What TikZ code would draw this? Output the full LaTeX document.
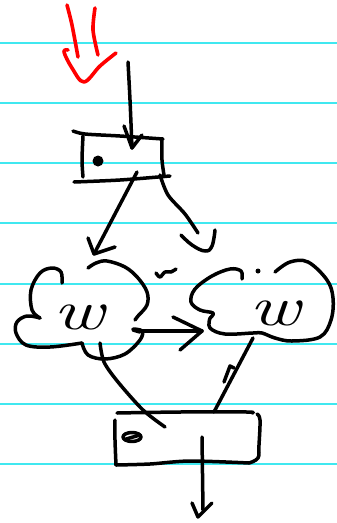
\documentclass[tikz,border=0pt]{standalone}
\begin{document}
\begin{tikzpicture}[x=1pt,y=-1pt,
  ink/.style={line width=3.5pt,line cap=round,line join=round,black},
  redink/.style={line width=3.6pt,line cap=round,line join=round,red},
  rule/.style={line width=1.8pt,color={rgb,255:red,64;green,232;blue,240}},
  letter/.style={font=\fontsize{56}{56}\selectfont\itshape,xscale=1.4,inner sep=0pt}]
\useasboundingbox (0,0) rectangle (337,523);
\fill[white] (0,0) rectangle (337,523);
% ruled lines
\foreach \yy in {43,103,163,223,284,344,404,464}
  \draw[rule] (0,\yy) -- (337,\yy);
% red arrow
\draw[redink] plot[smooth] coordinates {(67,5) (72,25) (78,57)};
\draw[redink] plot[smooth] coordinates {(95,8) (93,30) (98,55)};
\draw[redink] plot[smooth,tension=0.6] coordinates {(68,50) (64,52) (72,68) (84,82) (100,66) (116,53)};
% top input arrow
\coordinate (inTop) at (128,62);
\coordinate (inEnd) at (132,148);
\draw[ink] plot[smooth] coordinates {(inTop) (130,100) (132,148)};
\draw[ink] (124,126) -- (inEnd) -- (142,135);
% top box
\draw[ink] plot[smooth] coordinates {(73,131) (85,134) (120,136) (163,139)};
\draw[ink] plot[smooth] coordinates {(83,136) (82,160) (83,177)};
\draw[ink] plot[smooth] coordinates {(162,139) (162,160) (164,175)};
\draw[ink] plot[smooth] coordinates {(74,182) (120,180) (170,176)};
\fill (98,161) circle (5.5);
\coordinate (boxA) at (137,172);
\coordinate (boxB) at (160,175);
% arrow to left cloud
\coordinate (tipL) at (94,254);
\draw[ink] (boxA) -- (tipL);
\draw[ink] (88,238) -- (tipL) -- (115,247);
% curve to hook
\draw[ink] plot[smooth] coordinates {(boxB) (168,195) (185,214) (198,233)};
\draw[ink] plot[smooth,tension=0.7] coordinates {(181,235) (192,245) (205,251) (212,246) (215,230)};
% left cloud
\draw[ink] plot[smooth,tension=0.6] coordinates {
 (62,283) (61,272) (52,268) (40,273) (31,290) (32,310) (40,318)};
\draw[ink] plot[smooth,tension=0.6] coordinates {
 (40,318) (27,316) (17,322) (16,333) (26,345) (50,347) (82,343)};
\draw[ink] plot[smooth,tension=0.6] coordinates {
 (82,343) (88,355) (105,359) (125,354) (140,340) (142,331) (133,329)};
\draw[ink] plot[smooth,tension=0.6] coordinates {
 (135,320) (138,316) (147,305) (147,292) (138,278) (125,267) (107,261) (96,263) (88,268)};
\draw[ink] (140,332) -- (133,330);
\node[letter] (wL) at (79,317) {w};
% squiggle
\draw[ink] plot[smooth] coordinates {(156,273) (160,277) (165,272) (171,272) (176,269)};
% right cloud
\draw[ink] plot[smooth,tension=0.6] coordinates {
 (242,279) (241,271) (230,269) (212,276) (195,289) (191,302) (200,310) (213,313) (210,318)};
\draw[ink] plot[smooth,tension=0.6] coordinates {
 (210,318) (210,328) (225,334) (253,333) (262,333) (275,338) (292,341) (320,337) (331,320) (333,298) (327,280) (308,262) (290,262) (275,272)};
\fill (258,271) circle (2.5);
\node[letter] (wR) at (275,313) {w};
% arrow between clouds
\coordinate (midTip) at (202,331);
\draw[ink] (140,331) -- (midTip);
\draw[ink] (173,317) -- (midTip) -- (180,350);
% bottom box
\draw[ink] plot[smooth] coordinates {(117,413) (180,412) (247,412) (252,413)};
\draw[ink] plot[smooth] coordinates {(115,420) (115,440) (116,465)};
\draw[ink] plot[smooth,tension=0.6] coordinates {(257,414) (260,420) (259,445) (258,458) (249,463)};
\draw[ink] plot[smooth] coordinates {(116,465) (150,464) (190,461) (249,463)};
\draw[ink] (132,437) ellipse (9 and 4.5);
\draw[ink] (126,439) -- (140,435);
% connectors from clouds to bottom box
\coordinate (cLb) at (100,343);
\coordinate (boxIn) at (165,427);
\draw[ink] plot[smooth] coordinates {(cLb) (104,362) (118,382) (143,410) (boxIn)};
\coordinate (cRb) at (253,338);
\coordinate (boxR) at (214,412);
\draw[ink] (cRb) -- (boxR);
\draw[ink] (224,382) -- (230,366) -- (234,368);
% output arrow
\coordinate (outS) at (202,437);
\coordinate (outE) at (203,517);
\draw[ink] (outS) -- (203,510);
\draw[ink] (192,503) -- (198,517) -- (212,503);
\end{tikzpicture}
\end{document}
